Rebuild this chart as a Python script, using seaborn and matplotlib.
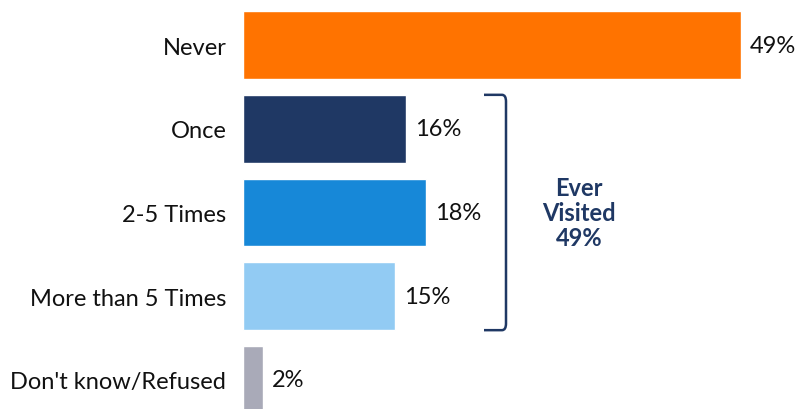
import matplotlib
matplotlib.use("Agg")
import matplotlib.pyplot as plt
import seaborn as sns
import pandas as pd
from matplotlib.path import Path
from matplotlib.patches import PathPatch

categories = ["Never", "Once", "2-5 Times", "More than 5 Times", "Don't know/Refused"]
values = [49, 16, 18, 15, 2]
colors = ["#FF7300", "#1F3864", "#1788D8", "#92CBF3", "#A9AAB8"]
bracket_label = "Ever\nVisited\n49%"

sns.set_theme(style="white")
plt.rcParams['font.family'] = ['Lato', 'DejaVu Sans']

df = pd.DataFrame({"cat": categories, "val": values})

fig = plt.figure(figsize=(7.96, 4.10), dpi=100)
ax = fig.add_axes([243/796, 0, 553/796, 1])
sns.barplot(data=df, x="val", y="cat", hue="cat", palette=colors, order=categories,
            hue_order=categories, orient="h", width=0.81, legend=False, ax=ax, saturation=1)

px = 10.16
fs = 17
ax.set_xlim(0, 553/px)
ax.set_ylim(4 + (410-381)/83.75, -46/83.75)
for s in ax.spines.values():
    s.set_visible(False)
ax.set_xlabel("")
ax.set_ylabel("")
ax.set_xticks([])
ax.tick_params(axis="y", length=0, pad=12, labelsize=fs, labelcolor="#111111")

for i, v in enumerate(values):
    ax.text(v + 9/px, i, f"{v}%", va="center", ha="left", fontsize=fs, color="#111111")

# bracket spanning Once .. More than 5 Times
x0 = (484-243)/px
x1 = (506-243)/px
r = 0.08
ytop = 1 - 0.405
ybot = 3 + 0.405
rx = 0.4
verts = [(x0, ytop), (x1 - rx, ytop), (x1, ytop), (x1, ytop + r),
         (x1, ybot - r), (x1, ybot), (x1 - rx, ybot), (x0, ybot)]
codes = [Path.MOVETO, Path.LINETO, Path.CURVE3, Path.CURVE3,
         Path.LINETO, Path.CURVE3, Path.CURVE3, Path.LINETO]
ax.add_patch(PathPatch(Path(verts, codes), fill=False, edgecolor="#1F3864", lw=1.8, clip_on=False))

ax.text((579-243)/px, 2, bracket_label, ha="center", va="center", fontsize=fs,
        fontweight="bold", color="#1F3864", linespacing=1.1)

fig.savefig("out.png", dpi=100)
